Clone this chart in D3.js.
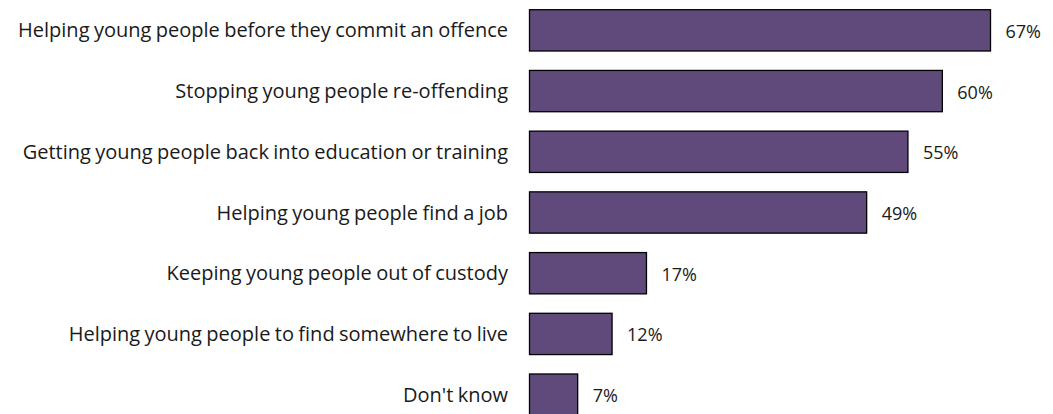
<!DOCTYPE html>
<html>
<head>
<meta charset="utf-8">
<script src="https://cdn.jsdelivr.net/npm/d3@7"></script>
<style>
  html, body { margin: 0; padding: 0; background: #fff; }
  svg text { font-family: "Open Sans", sans-serif; fill: #1a1a1a; }
</style>
</head>
<body>
<svg id="chart" width="1053" height="414"></svg>
<script>
// Survey responses: share of respondents choosing each priority
const categories = [
  "Helping young people before they commit an offence",
  "Stopping young people re-offending",
  "Getting young people back into education or training",
  "Helping young people find a job",
  "Keeping young people out of custody",
  "Helping young people to find somewhere to live",
  "Don't know"
];
const values = [67, 60, 55, 49, 17, 12, 7];

const svg = d3.select("#chart");
const barLeft = 529.5;

const x = d3.scaleLinear().domain([0, 67]).range([barLeft, 990.5]);
const y = d3.scaleBand()
  .domain(categories)
  .range([0, 425])
  .paddingInner(0.32)
  .paddingOuter(0.16);

const rows = svg.selectAll("g.row")
  .data(categories.map((c, i) => ({ c, v: values[i] })))
  .join("g")
  .attr("class", "row");

rows.append("rect")
  .attr("x", x(0))
  .attr("y", d => y(d.c))
  .attr("width", d => x(d.v) - x(0))
  .attr("height", y.bandwidth())
  .attr("fill", "#604a7b")
  .attr("stroke", "#000")
  .attr("stroke-width", 1.3);

rows.append("text")
  .attr("x", 508)
  .attr("y", d => y(d.c) + y.bandwidth() / 2 + 7)
  .attr("text-anchor", "end")
  .style("font-size", "20px")
  .style("word-spacing", "-0.8px")
  .text(d => d.c);

rows.append("text")
  .attr("x", d => x(d.v) + 15)
  .attr("y", d => y(d.c) + y.bandwidth() / 2 + 7.5)
  .style("font-size", "18px")
  .text(d => d.v + "%");
</script>
</body>
</html>
